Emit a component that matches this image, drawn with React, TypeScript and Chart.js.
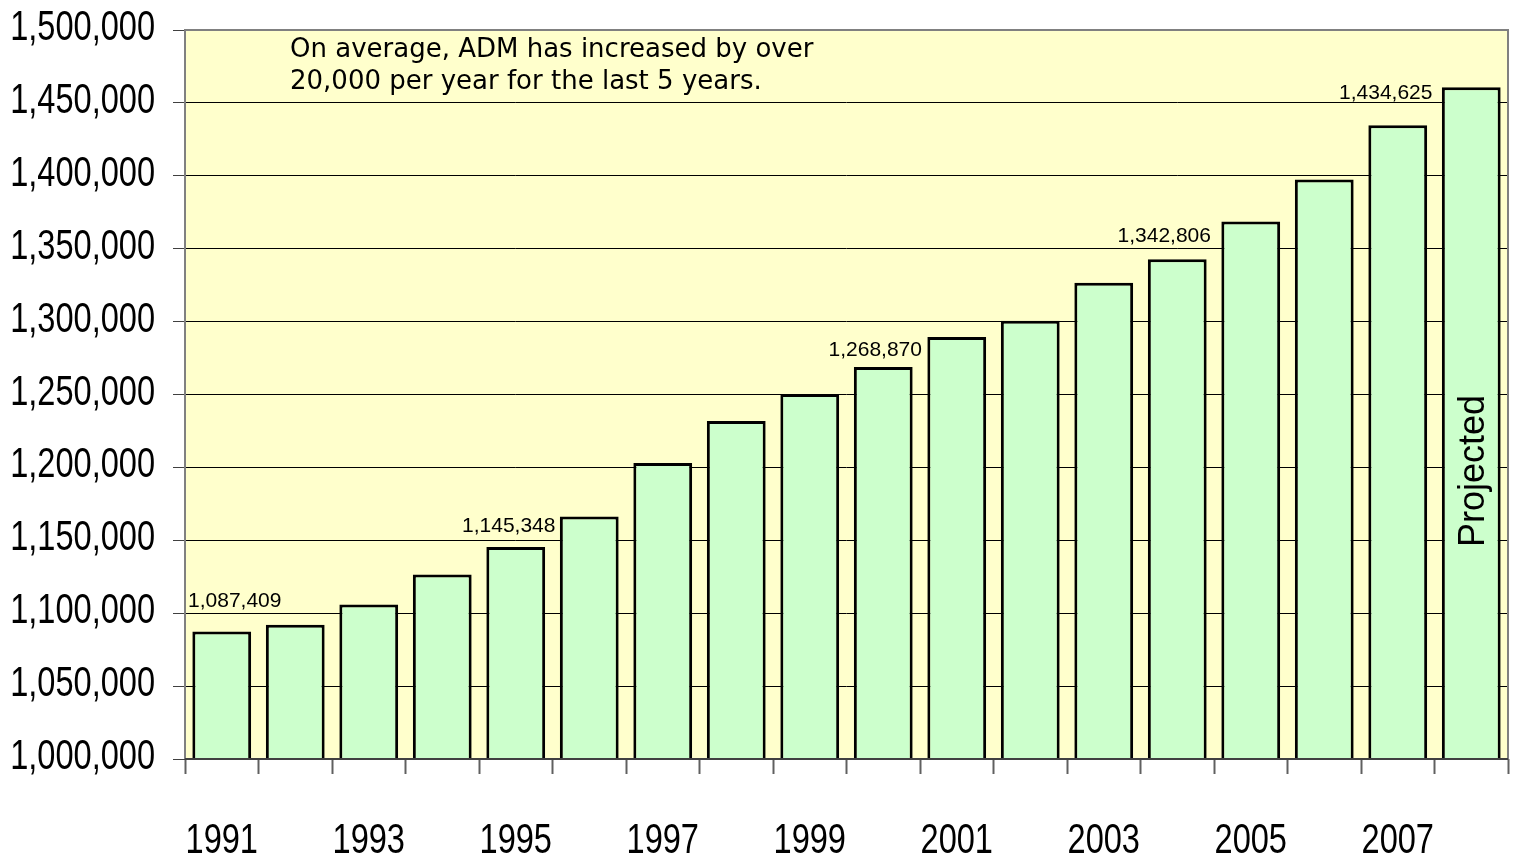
import React, { useEffect, useRef } from "react";
import { Chart, registerables } from "chart.js";

Chart.register(...registerables);

const years = [
  "1991", "1992", "1993", "1994", "1995", "1996", "1997", "1998", "1999",
  "2000", "2001", "2002", "2003", "2004", "2005", "2006", "2007", "2008",
];
const adm = [
  1087409, 1092000, 1106000, 1126500, 1145348, 1166400, 1203000, 1231800, 1250300,
  1268870, 1289500, 1300500, 1326700, 1342806, 1368600, 1397500, 1434625, 1460800,
];
const labeledIndex = [0, 4, 9, 13, 16];
const labelOffsets = [
  [13, -30], [-7, -21], [-8, -17], [-13, -23], [-12, -32],
];
const yTicks = [1000000, 1500000, 50000];
const noteLines = [
  "On average, ADM has increased by over",
  "20,000 per year for the last 5 years.",
];
const projectedText = "Projected";

const fmt = (v: number) => v.toLocaleString("en-US");
const TICK_FONT = "42px 'Liberation Sans', Arial, sans-serif";
const SQUEEZE = 0.775;

const drawSqueezed = (ctx: any, text: string, x: number, y: number, align: string) => {
  ctx.save();
  ctx.translate(x, y);
  ctx.scale(SQUEEZE, 1);
  ctx.textAlign = align;
  ctx.textBaseline = "alphabetic";
  ctx.fillText(text, 0, 0);
  ctx.restore();
};

const overlay = {
  id: "overlay",
  afterDraw(chart: any) {
    const { ctx, chartArea } = chart;
    const meta = chart.getDatasetMeta(0);
    const ys = chart.scales.y;
    const xs = chart.scales.x;
    ctx.save();
    // border
    ctx.strokeStyle = "#808080";
    ctx.lineWidth = 2;
    ctx.beginPath();
    ctx.moveTo(chartArea.left, chartArea.bottom);
    ctx.lineTo(chartArea.left, chartArea.top);
    ctx.lineTo(chartArea.right, chartArea.top);
    ctx.lineTo(chartArea.right, chartArea.bottom);
    ctx.stroke();
    ctx.strokeStyle = "#404040";
    ctx.beginPath();
    ctx.moveTo(chartArea.left, chartArea.bottom);
    ctx.lineTo(chartArea.right, chartArea.bottom);
    ctx.stroke();

    // axis tick labels (condensed)
    ctx.fillStyle = "#000";
    ctx.font = TICK_FONT;
    ys.ticks.forEach((t: any) => {
      const py = ys.getPixelForValue(t.value);
      drawSqueezed(ctx, fmt(t.value), chartArea.left - 30, py + 10, "right");
    });
    years.forEach((yr, i) => {
      if (i % 2 !== 0) return;
      const px = xs.getPixelForTick(i);
      drawSqueezed(ctx, yr, px, chartArea.bottom + 94, "center");
    });

    // value labels
    ctx.font = "21px 'Liberation Sans', Arial, sans-serif";
    ctx.textAlign = "center";
    ctx.textBaseline = "middle";
    labeledIndex.forEach((idx, i) => {
      const el = meta.data[idx];
      const [dx, dy] = labelOffsets[i];
      ctx.fillText(fmt(adm[idx]), el.x + dx, el.y + dy);
    });

    // note
    ctx.textAlign = "left";
    ctx.font = "26px 'DejaVu Sans', sans-serif";
    noteLines.forEach((line, i) => {
      ctx.fillText(line, chartArea.left + 105, chartArea.top + 20 + i * 32);
    });

    // projected
    const last = meta.data[meta.data.length - 1];
    ctx.translate(last.x + 3, (last.y + chartArea.bottom) / 2 + 48);
    ctx.rotate(-Math.PI / 2);
    ctx.textAlign = "center";
    ctx.font = "36px 'Liberation Sans', Arial, sans-serif";
    ctx.fillText(projectedText, 0, 0);
    ctx.restore();
  },
};

const bgPlugin = {
  id: "bg",
  beforeDraw(chart: any) {
    const { ctx, chartArea } = chart;
    ctx.save();
    ctx.fillStyle = "#FFFFCC";
    ctx.fillRect(chartArea.left, chartArea.top, chartArea.right - chartArea.left, chartArea.bottom - chartArea.top);
    ctx.restore();
  },
};

export default function App() {
  const ref = useRef<HTMLCanvasElement>(null);
  useEffect(() => {
    if (!ref.current) return;
    const chart = new Chart(ref.current, {
      type: "bar",
      data: {
        labels: years,
        datasets: [
          {
            data: adm,
            backgroundColor: "#CCFFCC",
            borderColor: "#000000",
            borderWidth: 3,
            borderSkipped: false,
            categoryPercentage: 1,
            barPercentage: 0.8,
          },
        ],
      },
      options: {
        animation: false,
        responsive: false,
        layout: { padding: { top: 24, right: 5, left: 0, bottom: 0 } },
        plugins: { legend: { display: false }, tooltip: { enabled: false } },
        scales: {
          x: {
            offset: true,
            grid: {
              offset: true,
              drawOnChartArea: false,
              drawTicks: true,
              tickLength: 15,
              tickColor: "#606060",
              tickWidth: 2,
            },
            border: { display: false },
            ticks: {
              autoSkip: false,
              maxRotation: 0,
              padding: 10,
              color: "rgba(0,0,0,0)",
              font: { size: 20 },
              callback: (_v: any, i: number) => (i % 2 === 0 ? years[i] : ""),
            },
            afterFit: (s: any) => {
              s.height = 98;
            },
          },
          y: {
            min: yTicks[0],
            max: yTicks[1],
            ticks: {
              stepSize: yTicks[2],
              padding: 18,
              color: "rgba(0,0,0,0)",
              font: { size: 20 },
              callback: (v: any) => fmt(Number(v)),
            },
            grid: {
              color: "#000",
              lineWidth: 1,
              tickLength: 12,
              tickColor: "#404040",
            },
            border: { display: false },
            afterFit: (s: any) => {
              s.width = 185;
            },
          },
        },
      },
      plugins: [bgPlugin, overlay],
    });
    return () => chart.destroy();
  }, []);
  return (
    <div style={{ position: "fixed", left: 0, top: 0, width: 1513, height: 857, background: "#fff" }}>
      <canvas ref={ref} width={1513} height={857} />
    </div>
  );
}
